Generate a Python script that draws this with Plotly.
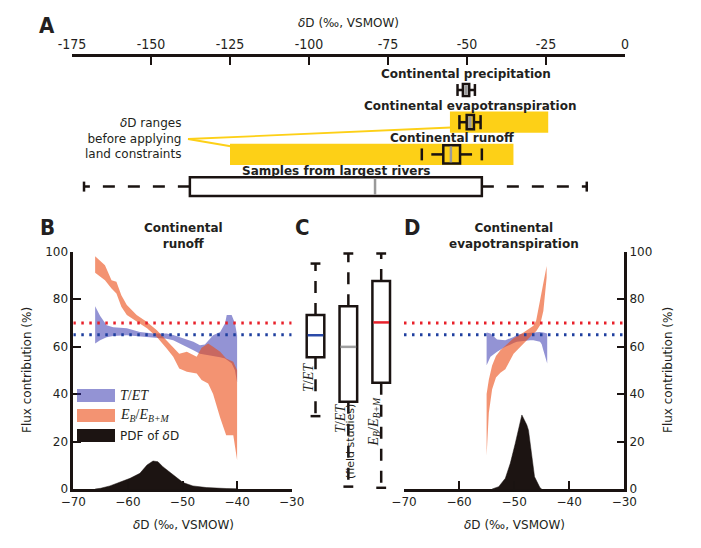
import plotly.graph_objects as go

W, H = 701, 548

# ---------------- DATA ----------------
# Panel A : box statistics of deltaD (permil, VSMOW)
a_names = ["Continental precipitation", "Continental evapotranspiration",
           "Continental runoff", "Samples from largest rivers"]
a_rows = [0, 1, 2, 3]
a_low = [-53.0, -52.4, -64.3, -171.2]
a_q1 = [-51.3, -50.1, -57.5, -137.7]
a_med = [-50.3, -49.1, -55.1, -79.1]
a_q3 = [-49.3, -47.8, -52.2, -45.3]
a_high = [-47.5, -45.7, -45.3, -12.1]
# ranges before applying land constraints (ET row, runoff row)
a_range_rows = [1, 2]
a_range_lo = [-55.4, -125.0]
a_range_hi = [-24.3, -35.3]
a_ticks = [-175, -150, -125, -100, -75, -50, -25, 0]
a_ticktext = ["-175", "-150", "-125", "-100", "-75", "-50", "-25", "0"]

# Panel B : continental runoff
b_tet_x = [-66.0, -65.1, -63.9, -62.7, -60.2, -57.8, -55.3, -52.9, -51.7, -49.9,
           -48.0, -46.8, -45.9, -44.4, -43.1, -42.2, -41.9, -41.0, -40.4, -40.0]
b_tet_hi = [77, 73, 69, 68.2, 67.7, 66.2, 65.5, 65.5, 64.9, 63.4,
            62, 60.6, 60.9, 64.8, 66.2, 69.8, 73.3, 73.3, 69.8, 64.8]
b_tet_lo = [61.3, 62.7, 64, 64.5, 64.8, 64.4, 63.7, 63.3, 62.7, 60.5,
            58.5, 57, 56.5, 56, 55.5, 55, 54.5, 53, 50, 45]
b_eb_x = [-66.0, -64.2, -63.0, -62.1, -61.2, -60.2, -58.4, -56.5, -54.7, -52.9, -51.7,
          -50.6, -49.2, -47.4, -46.5, -45.3, -44.4, -43.1, -42.0, -40.7, -40.0]
b_eb_hi = [98.1, 94.3, 88.0, 87.3, 81.7, 77.5, 73.3, 70.4, 66.9, 62.7, 59.5,
           57.0, 57.8, 55.7, 59.5, 61.3, 59.9, 57.8, 55.0, 53.6, 50.0]
b_eb_lo = [91.1, 88.0, 84.5, 82.4, 76.8, 73.3, 70.4, 67.7, 64.1, 59.2, 55.7,
           50.8, 49.4, 48.7, 45.9, 44.5, 40.0, 30.0, 22.7, 22.7, 12.2]
b_pdf_x = [-66, -65, -63.3, -61.4, -59.6, -57.8, -56.5, -55.4, -54.5, -53.6,
           -51.7, -49.9, -48.1, -45.6, -42, -40]
b_pdf_y = [0, 0.3, 1.3, 3, 4.5, 6.6, 10.1, 11.8, 11.5, 9.4, 5.9, 2.7, 1.3, 0.6, 0.2, 0.1]

# Panel C : box statistics of flux contributions (%)
c_names = ["T/ET", "T/ET (field studies)", "E_B/E_B+M"]
c_pos = [0, 1, 2]
c_low = [30.7, 1.0, 0.5]
c_q1 = [55.5, 36.8, 44.8]
c_med = [64.8, 59.9, 70.2]
c_q3 = [73.3, 77.0, 87.7]
c_high = [95.0, 99.2, 99.2]

# Panel D : continental evapotranspiration
d_tet_x = [-55, -54.3, -53.1, -51.6, -50.1, -49.5, -48.3, -47.1, -46.5, -45.3, -45, -44.7, -44]
d_tet_hi = [66, 65.5, 63, 62.7, 64.1, 65, 65.5, 66, 66, 66.2, 66.2, 66, 65.5]
d_tet_lo = [52.2, 55.7, 57.8, 59.9, 61.5, 62, 62.5, 62.7, 62.7, 62, 61, 58.5, 52.9]
d_eb_x = [-55, -54.6, -54, -53.3, -52.5, -51.6, -50.1, -48.3, -46.5, -46, -45.3, -44.7, -44.1]
d_eb_hi = [40, 46, 52, 56, 58.5, 60.5, 63.5, 66, 68.8, 71, 79, 86, 94]
d_eb_lo = [14, 32, 42, 47, 49, 50.5, 57, 61.3, 65.5, 66.5, 69, 75, 89]
d_pdf_x = [-54, -53.7, -52.8, -51.6, -50.7, -49.8, -48.6, -47.7, -47.4, -46.3, -45.3, -45]
d_pdf_y = [0, 0.3, 1.0, 4.5, 10.8, 19.2, 31.2, 27, 24.8, 5.2, 0.5, 0]

# reference levels (%)
ref_eb = 70
ref_tet = 65
flux_ticks = [0, 20, 40, 60, 80, 100]
dd_ticks = [-70, -60, -50, -40, -30]

# ---------------- STYLE ----------------
AX = "#1a1311"
TXT = "#231f20"
BLUE_FILL = "rgba(40,40,170,0.5)"
RED_FILL = "rgba(235,75,20,0.6)"
PDF_C = "#1c1412"
YELLOW = "#fdd017"
RED_DOT = "#e8202a"
BLUE_DOT = "#1f3f9f"
GRAY = "#9a9a9a"
C_MED_COLORS = ["#2a4aa8", "#a0a0a0", "#e8202a"]
SANS = "DejaVu Sans"
NARROW = "DejaVu Sans Condensed, Liberation Sans Narrow, Roboto, sans-serif"
SERIF = "Liberation Serif, DejaVu Serif, serif"

OFF = 8  # page body margin of the html


def px(x):
    return (x - OFF) / W


def py(y):
    return 1 - (y - OFF) / H


fig = go.Figure()


def band(x, lo, hi, color, xa, ya):
    return go.Scatter(x=list(x) + list(x)[::-1], y=list(hi) + list(lo)[::-1],
                      fill="toself", fillcolor=color, mode="lines",
                      line=dict(width=0, color=color), hoverinfo="skip",
                      showlegend=False, xaxis=xa, yaxis=ya)


for (tx, tlo, thi, ex, elo, ehi, pdx, pdy, xa, ya) in [
        (b_tet_x, b_tet_lo, b_tet_hi, b_eb_x, b_eb_lo, b_eb_hi, b_pdf_x, b_pdf_y, "x2", "y2"),
        (d_tet_x, d_tet_lo, d_tet_hi, d_eb_x, d_eb_lo, d_eb_hi, d_pdf_x, d_pdf_y, "x4", "y4")]:
    fig.add_trace(band(tx, tlo, thi, BLUE_FILL, xa, ya))
    fig.add_trace(band(ex, elo, ehi, RED_FILL, xa, ya))
    fig.add_trace(go.Scatter(x=pdx, y=pdy, fill="tozeroy", fillcolor=PDF_C, mode="lines",
                             line=dict(width=0.5, color=PDF_C), showlegend=False,
                             hoverinfo="skip", xaxis=xa, yaxis=ya))
    for lvl, col in [(ref_eb, RED_DOT), (ref_tet, BLUE_DOT)]:
        fig.add_trace(go.Scatter(x=[dd_ticks[0], dd_ticks[-1]], y=[lvl, lvl], mode="lines",
                                 line=dict(color=col, width=3, dash="2.5px,5.5px"),
                                 showlegend=False, hoverinfo="skip", xaxis=xa, yaxis=ya))

# invisible traces to instantiate axes of A and C
fig.add_trace(go.Scatter(x=[a_low[0]], y=[a_rows[0]], mode="markers", marker=dict(opacity=0),
                         showlegend=False, hoverinfo="skip", xaxis="x", yaxis="y"))
fig.add_trace(go.Scatter(x=[c_pos[0]], y=[c_med[0]], mode="markers", marker=dict(opacity=0),
                         showlegend=False, hoverinfo="skip", xaxis="x3", yaxis="y3"))

shapes = []
annotations = []

# ---- Panel A shapes ----
a_box_h = [0.37, 0.44, 0.57, 0.58]
a_cap_h = [0.37, 0.44, 0.37, 0.31]
a_med_w = [3.5, 3.5, 2.5, 2.5]
for r, lo, hi in zip(a_range_rows, a_range_lo, a_range_hi):
    shapes.append(dict(type="rect", xref="x", yref="y", x0=lo, x1=hi, y0=r - 0.33, y1=r + 0.33,
                       fillcolor=YELLOW, line=dict(width=0)))
# connectors from the note text to the yellow ranges
shapes.append(dict(type="line", xref="paper", yref="paper", x0=px(188), y0=py(139),
                   x1=px(451), y1=py(127.5), line=dict(color=YELLOW, width=1.8)))
shapes.append(dict(type="line", xref="paper", yref="paper", x0=px(188), y0=py(139),
                   x1=px(232), y1=py(146.5), line=dict(color=YELLOW, width=1.8)))
for i, r in enumerate(a_rows):
    bh, ch = a_box_h[i] / 2, a_cap_h[i] / 2
    for x0, x1 in [(a_q1[i], a_low[i]), (a_q3[i], a_high[i])]:
        shapes.append(dict(type="line", xref="x", yref="y", x0=x0, x1=x1, y0=r, y1=r,
                           line=dict(color=AX, width=2.5, dash="12px,13px")))
    for xc in [a_low[i], a_high[i]]:
        shapes.append(dict(type="line", xref="x", yref="y", x0=xc, x1=xc, y0=r - ch, y1=r + ch,
                           line=dict(color=AX, width=2.5)))
    shapes.append(dict(type="rect", xref="x", yref="y", x0=a_q1[i], x1=a_q3[i],
                       y0=r - bh, y1=r + bh,
                       fillcolor="white" if i == 3 else "rgba(0,0,0,0)",
                       line=dict(color=AX, width=2.5)))
    shapes.append(dict(type="line", xref="x", yref="y", x0=a_med[i], x1=a_med[i],
                       y0=r - bh + 0.04, y1=r + bh - 0.04,
                       line=dict(color=GRAY, width=a_med_w[i])))
    annotations.append(dict(xref="x", yref="y", x=(a_q1[i] + a_q3[i]) / 2, y=r - 0.5,
                            text=a_names[i], showarrow=False, xanchor="center", yanchor="middle",
                            font=dict(family=SANS, size=12, color=TXT, weight="bold")))

# ---- Panel C shapes ----
c_bw, c_cw = 0.268, 0.15
for i, xc in enumerate(c_pos):
    for y0, y1 in [(c_q3[i], c_high[i]), (c_q1[i], c_low[i])]:
        shapes.append(dict(type="line", xref="x3", yref="y3", x0=xc, x1=xc, y0=y0, y1=y1,
                           line=dict(color=AX, width=2.5, dash="12px,10px")))
    for yc in [c_low[i], c_high[i]]:
        shapes.append(dict(type="line", xref="x3", yref="y3", x0=xc - c_cw, x1=xc + c_cw,
                           y0=yc, y1=yc, line=dict(color=AX, width=2.5)))
    shapes.append(dict(type="rect", xref="x3", yref="y3", x0=xc - c_bw, x1=xc + c_bw,
                       y0=c_q1[i], y1=c_q3[i], fillcolor="white", line=dict(color=AX, width=2.5)))
    shapes.append(dict(type="line", xref="x3", yref="y3", x0=xc - c_bw + 0.03, x1=xc + c_bw - 0.03,
                       y0=c_med[i], y1=c_med[i], line=dict(color=C_MED_COLORS[i], width=2.5)))

# ---- Legend (panel B) ----
for j, (col, lab) in enumerate([
        (BLUE_FILL, "<i>T</i>/<i>ET</i>"),
        (RED_FILL, "<i>E</i><sub><i>B</i></sub>/<i>E</i><sub><i>B+M</i></sub>"),
        (PDF_C, "PDF of <i>δ</i>D")]):
    yc = 395.5 + j * 20
    shapes.append(dict(type="rect", xref="paper", yref="paper", x0=px(77), x1=px(115),
                       y0=py(yc + 6.5), y1=py(yc - 6.5), fillcolor=col, line=dict(width=0)))
    annotations.append(dict(xref="paper", yref="paper", x=px(118), y=py(yc), text=lab,
                            showarrow=False, xanchor="left", yanchor="middle",
                            font=dict(family=SERIF if j < 2 else SANS, size=14 if j < 2 else 12,
                                      color=TXT)))


def note(x, y, text, size=12, family=SANS, bold=False, angle=0, xanchor="center", align="center"):
    annotations.append(dict(xref="paper", yref="paper", x=px(x), y=py(y), text=text,
                            showarrow=False, xanchor=xanchor, yanchor="middle", align=align,
                            textangle=angle,
                            font=dict(family=family, size=size, color=TXT,
                                      weight="bold" if bold else "normal")))


for lab, x, y in [("A", 47, 25), ("B", 47, 227), ("C", 302, 227), ("D", 412, 227)]:
    note(x, y, lab, size=22, family=NARROW, bold=True)
note(348, 23, "<i>δ</i>D (‰, VSMOW)")
note(182.7, 139, "<i>δ</i>D ranges<br>before applying<br>land constraints", xanchor="right", align="right")
note(183, 236, "Continental<br>runoff", bold=True)
note(514, 236, "Continental<br>evapotranspiration", bold=True)
note(27, 370, "Flux contribution (%)", angle=-90)
note(668, 370, "Flux contribution (%)", angle=-90)
note(183, 525, "<i>δ</i>D (‰, VSMOW)")
note(514, 525, "<i>δ</i>D (‰, VSMOW)")
note(308, 378, "<i>T</i>/<i>ET</i>", size=14, family=SERIF, angle=-90)
note(340, 419, "<i>T</i>/<i>ET</i>", size=14, family=SERIF, angle=-90)
note(350.5, 441.5, "(field studies)", size=11, angle=-90)
note(374, 421.5, "<i>E</i><sub><i>B</i></sub>/<i>E</i><sub><i>B+M</i></sub>", size=14, family=SERIF, angle=-90)

# ---------------- AXES ----------------
ydom = [py(489), py(251.7)]
common_tick = dict(ticks="inside", ticklen=8, tickwidth=2, tickcolor=AX, showline=True,
                   linecolor=AX, linewidth=2.5, showgrid=False, zeroline=False, automargin=False,
                   tickfont=dict(family=SANS, size=12, color=TXT))

fig.update_layout(
    template="none",
    width=W, height=H, autosize=False,
    margin=dict(l=0, r=0, t=0, b=0, pad=0, autoexpand=False),
    paper_bgcolor="white", plot_bgcolor="rgba(0,0,0,0)",
    showlegend=False,
    xaxis=dict(domain=[px(72), px(625)], range=[-175, 0], side="top", anchor="y",
               tickvals=a_ticks, ticktext=a_ticktext, ticks="inside", ticklen=8, tickwidth=2,
               tickcolor=AX, showline=True, linecolor=AX, linewidth=2.5, showgrid=False,
               zeroline=False, automargin=False, tickfont=dict(family=NARROW, size=14, color=TXT)),
    yaxis=dict(domain=[py(213), py(57)], range=[3.82, -1.025], visible=False, anchor="x",
               automargin=False),
    xaxis2=dict(domain=[px(73.3), px(291.7)], range=[-70, -30], anchor="y2",
                tickvals=dd_ticks, **common_tick),
    yaxis2=dict(domain=ydom, range=[0, 100], anchor="x2", tickvals=flux_ticks, **common_tick),
    xaxis3=dict(domain=[px(295), px(402)], range=[-0.624, 2.633], anchor="y3", visible=False,
                automargin=False),
    yaxis3=dict(domain=ydom, range=[0, 100], anchor="x3", visible=False, automargin=False),
    xaxis4=dict(domain=[px(404), px(624.3)], range=[-70, -30], anchor="y4",
                tickvals=dd_ticks, **common_tick),
    yaxis4=dict(domain=ydom, range=[0, 100], anchor="x4", side="right",
                tickvals=flux_ticks, **common_tick),
    shapes=shapes,
    annotations=annotations,
)

fig.write_html("out.html")
